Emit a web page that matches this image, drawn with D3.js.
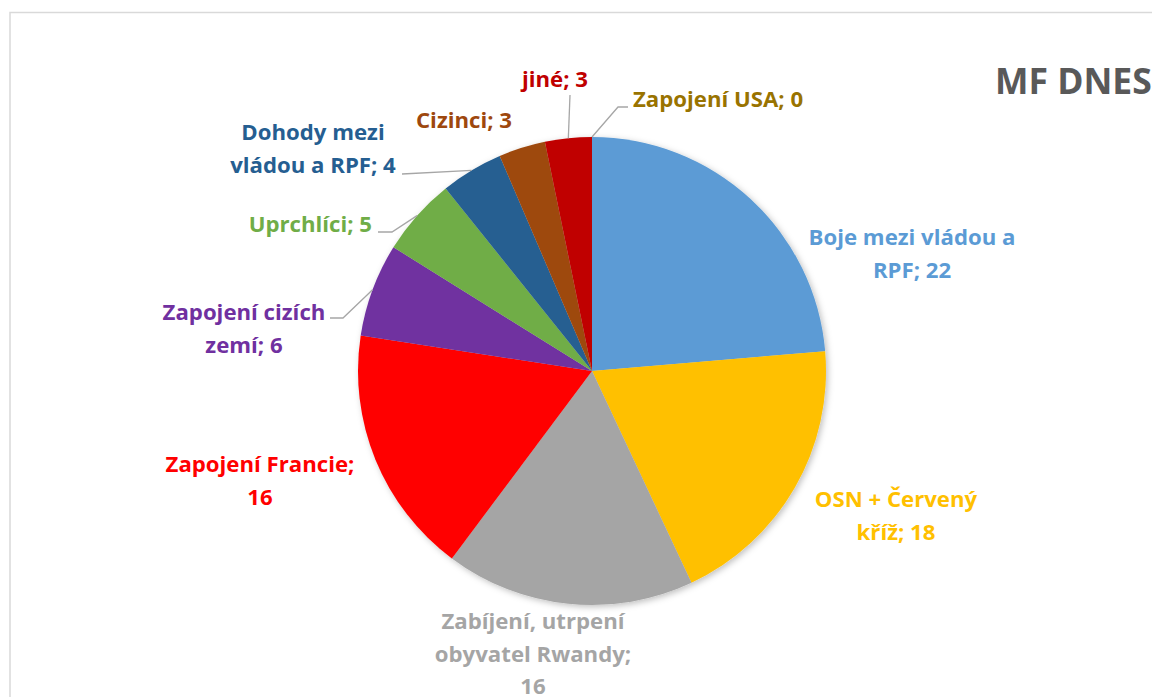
<!DOCTYPE html>
<html><head><meta charset="utf-8">
<script src="https://cdn.jsdelivr.net/npm/d3@7"></script>
<style>
html,body{margin:0;padding:0;background:#fff;overflow:hidden}
text{font-family:"Open Sans",Lato,sans-serif;font-weight:700}
</style></head>
<body>
<script>
const categories = ["Boje mezi vládou a RPF","OSN + Červený kříž","Zabíjení, utrpení obyvatel Rwandy","Zapojení Francie","Zapojení cizích zemí","Uprchlíci","Dohody mezi vládou a RPF","Cizinci","jiné","Zapojení USA"];
const values = [22,18,16,16,6,5,4,3,3,0];
const colors = ["#5B9BD5","#FFC000","#A5A5A5","#FF0000","#7030A0","#70AD47","#255E91","#9E480E","#C00000","#997300"];
const labelLines = [
  ["Boje mezi vládou a","RPF; 22"],
  ["OSN + Červený","kříž; 18"],
  ["Zabíjení, utrpení","obyvatel Rwandy;","16"],
  ["Zapojení Francie;","16"],
  ["Zapojení cizích","zemí; 6"],
  ["Uprchlíci; 5"],
  ["Dohody mezi","vládou a RPF; 4"],
  ["Cizinci; 3"],
  ["jiné; 3"],
  ["Zapojení USA; 0"]
];
const title = "MF DNES";

// layout
const W=1152,H=697, cx=592, cy=371, R=234, lh=32.5;
const labelLayout = [
  {x:912,y:245,a:"middle"},
  {x:896,y:507,a:"middle"},
  {x:533,y:629,a:"middle"},
  {x:260,y:472,a:"middle"},
  {x:244,y:320,a:"middle"},
  {x:372,y:232,a:"end"},
  {x:313,y:140,a:"middle"},
  {x:464,y:128,a:"middle"},
  {x:555,y:87,a:"middle"},
  {x:633,y:107,a:"start"}
];
const leaders = {
  4:[[330,318],[343,318]],
  5:[[378,232],[392,232]],
  6:[[402,174]],
  8:[[570,95]],
  9:[[628,107],[618,107]]
};

const svg=d3.select("body").append("svg").attr("width",W).attr("height",H);
// fit font size so first label line is ~207px wide
const probe=svg.append("text").attr("font-size",20).text("Boje mezi vládou a");
const fs=20*207/probe.node().getComputedTextLength();
probe.remove();

const defs=svg.append("defs");
const f=defs.append("filter").attr("id","sh").attr("x","-20%").attr("y","-20%").attr("width","140%").attr("height","140%");
f.append("feDropShadow").attr("dx",2).attr("dy",2).attr("stdDeviation",3).attr("flood-color","#000").attr("flood-opacity",0.25);

svg.append("rect").attr("x",10).attr("y",12.5).attr("width",1300).attr("height",900)
  .attr("fill","none").attr("stroke","#D9D9D9").attr("stroke-width",1.5);

const pie=d3.pie().sort(null).value(d=>d)(values);
const arc=d3.arc().innerRadius(0).outerRadius(R);
const g=svg.append("g").attr("transform",`translate(${cx},${cy})`);
g.append("g").attr("filter","url(#sh)").selectAll("path").data(pie).join("path")
  .attr("d",arc).attr("fill",(d,i)=>colors[i]);

const line=d3.line();
Object.keys(leaders).forEach(k=>{
  const d=pie[k]; const m=(d.startAngle+d.endAngle)/2;
  const pt=[cx+R*Math.sin(m), cy-R*Math.cos(m)];
  svg.append("path").attr("d",line([...leaders[k],pt])).attr("fill","none")
    .attr("stroke","#A6A6A6").attr("stroke-width",1.3);
});

labelLines.forEach((ls,i)=>{
  const L=labelLayout[i];
  const t=svg.append("text").attr("x",L.x).attr("y",L.y).attr("text-anchor",L.a)
    .attr("fill",colors[i]).attr("font-size",fs);
  ls.forEach((s,j)=>t.append("tspan").attr("x",L.x).attr("y",L.y+j*lh).text(s));
});

svg.append("text").attr("x",995).attr("y",94).attr("font-size",fs*1.6).attr("fill","#595959").text(title);
</script>
</body></html>
